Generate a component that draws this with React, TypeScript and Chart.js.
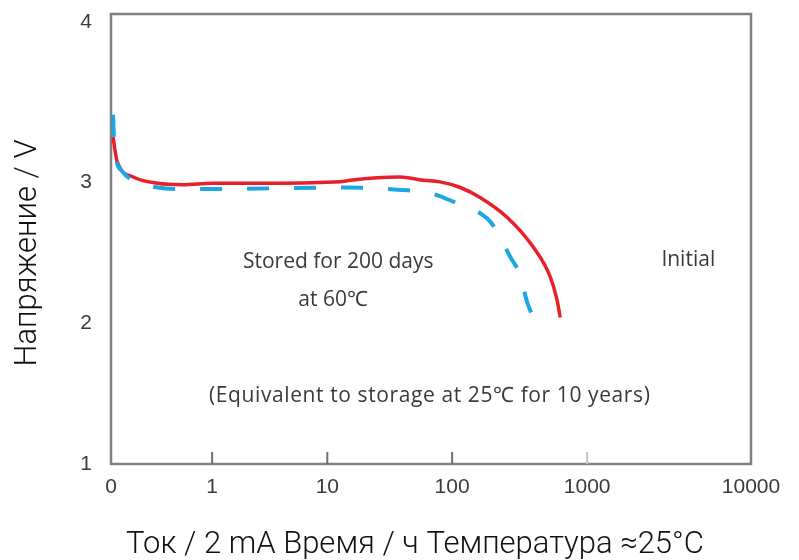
import React, { useEffect, useRef } from 'react';
import { Chart, registerables, LinearScale } from 'chart.js';

// ---------- data ----------
const xTickValues = [0, 1, 10, 100, 1000, 10000];
const xTickLabels = ['0', '1', '10', '100', '1000', '10000'];
const yTickValues = [1, 2, 3, 4];
const yTickLabels = ['1', '2', '3', '4'];

const xTitle = 'Ток / 2 mA Время / ч Температура ≈25°C';
const yTitle = 'Напряжение / V';

const seriesNames = ['Initial', 'Stored for 200 days at 60℃'];

// Initial (red, solid)
const initialHours = [0.02, 0.06, 0.22, 0.46, 0.71, 1, 3.2, 12.7, 15.3, 38, 58.6, 80, 115, 161, 255, 398, 532, 600, 631];
const initialVolts = [3.28, 3.13, 3.03, 2.99, 2.98, 2.99, 2.99, 3.0, 3.01, 3.03, 3.01, 3.0, 2.96, 2.89, 2.75, 2.54, 2.33, 2.16, 2.04];

// Stored for 200 days at 60℃ (blue, dashed)
const storedHours = [0.02, 0.03, 0.04, 0.12, 0.22, 0.46, 0.65, 1, 14.5, 43.7, 66.7, 96, 182, 215, 269, 319, 359, 412];
const storedVolts = [3.42, 3.26, 3.18, 3.06, 3.01, 2.96, 2.95, 2.95, 2.96, 2.94, 2.92, 2.87, 2.74, 2.65, 2.47, 2.34, 2.15, 2.01];

const annotationTexts = ['Stored for 200 days', 'at 60℃', 'Initial', '(Equivalent to storage at 25℃ for 10 years)'];

// ---------- layout / style constants ----------
const annotationPos = [
  [0.355, 0.551],
  [0.347, 0.636],
  [0.902, 0.547],
  [0.498, 0.849],
];
const xTitleCenter = [415, 545];
const yTitleCenter = [28, 253];
const xAnchorFractions = [0, 0.158, 0.338, 0.533, 0.744, 1];
const xAnchorLog = [false, true, true, true, true];
const yAnchorValues = [1, 2, 3, 4, 4.05];
const yAnchorFractions = [0, 0.313, 0.627, 0.982, 1];
const yAnchorLog = [false, false, false, false];

// ---------- piecewise scale ----------
class PiecewiseScale extends LinearScale {
  static id = 'piecewise';
  static defaults = {};

  pw() {
    const o: any = this.options;
    return { vals: o.pwValues as number[], fr: o.pwFractions as number[], lg: o.pwLog as boolean[] };
  }

  buildTicks() {
    (this as any).start = this.min;
    (this as any).end = this.max;
    const o: any = this.options;
    return (o.pwTicks as number[]).map((v) => ({ value: v }));
  }

  fracFor(value: number) {
    const { vals, fr, lg } = this.pw();
    const n = vals.length;
    let i = 0;
    if (value <= vals[0]) i = 0;
    else if (value >= vals[n - 1]) i = n - 2;
    else {
      while (i < n - 2 && value > vals[i + 1]) i++;
    }
    const a = vals[i], b = vals[i + 1];
    let t;
    if (lg[i] && a > 0 && b > 0 && value > 0) t = (Math.log10(value) - Math.log10(a)) / (Math.log10(b) - Math.log10(a));
    else t = (value - a) / (b - a);
    return fr[i] + t * (fr[i + 1] - fr[i]);
  }

  getPixelForValue(value: any) {
    if (value === null || value === undefined || isNaN(value)) return NaN;
    return this.getPixelForDecimal(this.fracFor(value));
  }

  getDecimalForValue(value: number) {
    return this.fracFor(value);
  }

  getValueForPixel(pixel: number) {
    const d = this.getDecimalForPixel(pixel);
    const { vals, fr, lg } = this.pw();
    const n = vals.length;
    let i = 0;
    while (i < n - 2 && d > fr[i + 1]) i++;
    const t = (d - fr[i]) / (fr[i + 1] - fr[i]);
    const a = vals[i], b = vals[i + 1];
    if (lg[i] && a > 0 && b > 0) return Math.pow(10, Math.log10(a) + t * (Math.log10(b) - Math.log10(a)));
    return a + t * (b - a);
  }
}

Chart.register(...registerables, PiecewiseScale);

// ---------- plugins ----------
const framePlugin = {
  id: 'frame',
  beforeDatasetsDraw(chart: any) {
    const { ctx, chartArea: a } = chart;
    ctx.save();
    ctx.strokeStyle = '#808080';
    ctx.lineWidth = 2.5;
    ctx.strokeRect(a.left, a.top, a.right - a.left, a.bottom - a.top);
    const xs = chart.scales.x;
    xTickValues.forEach((v, i) => {
      if (i === 0 || i === xTickValues.length - 1) return;
      const px = xs.getPixelForValue(v);
      ctx.strokeStyle = i === 4 ? '#c4c4c4' : '#707070';
      ctx.lineWidth = 2;
      ctx.beginPath();
      ctx.moveTo(px, a.bottom);
      ctx.lineTo(px, a.bottom - 12);
      ctx.stroke();
    });
    ctx.restore();
  },
};

const annotationPlugin = {
  id: 'notes',
  afterDatasetsDraw(chart: any) {
    const { ctx, chartArea: a } = chart;
    ctx.save();
    ctx.fillStyle = '#3a3a3a';
    ctx.font = '21px "Open Sans", sans-serif';
    ctx.textAlign = 'center';
    ctx.textBaseline = 'middle';
    annotationTexts.forEach((t, i) => {
      const [fx, fy] = annotationPos[i];
      if (i === 3) (ctx as any).letterSpacing = '0.6px';
      ctx.fillText(t, a.left + fx * (a.right - a.left), a.top + fy * (a.bottom - a.top));
    });
    ctx.restore();

    // axis titles
    ctx.save();
    ctx.fillStyle = '#111';
    ctx.font = '300 31px Roboto, sans-serif';
    ctx.textAlign = 'center';
    ctx.textBaseline = 'middle';
    ctx.fillText(xTitle, xTitleCenter[0], xTitleCenter[1]);
    ctx.translate(yTitleCenter[0], yTitleCenter[1]);
    ctx.rotate(-Math.PI / 2);
    ctx.fillText(yTitle, 0, 0);
    ctx.restore();
  },
};

export default function App() {
  const ref = useRef<HTMLCanvasElement | null>(null);

  useEffect(() => {
    if (!ref.current) return;
    const tickFont = { family: '"Liberation Sans", Arial, sans-serif', size: 21 };
    const chart = new Chart(ref.current, {
      type: 'line',
      data: {
        datasets: [
          {
            label: seriesNames[1],
            data: storedHours.map((x, i) => ({ x, y: storedVolts[i] })),
            borderColor: '#1ba6e4',
            borderWidth: 4,
            borderDash: [22, 25],
            pointRadius: 0,
            cubicInterpolationMode: 'monotone',
            fill: false,
          },
          {
            label: seriesNames[0],
            data: initialHours.map((x, i) => ({ x, y: initialVolts[i] })),
            borderColor: '#e8202b',
            borderWidth: 3.5,
            pointRadius: 0,
            cubicInterpolationMode: 'monotone',
            fill: false,
          },
        ],
      },
      options: {
        responsive: false,
        animation: false,
        layout: { padding: { left: 0, right: 48, top: 14, bottom: 0 } },
        plugins: { legend: { display: false }, tooltip: { enabled: false } },
        scales: {
          x: {
            type: 'piecewise' as any,
            min: 0,
            max: 10000,
            pwValues: xTickValues,
            pwFractions: xAnchorFractions,
            pwLog: xAnchorLog,
            pwTicks: xTickValues,
            grid: { display: false, drawTicks: false },
            border: { display: false },
            ticks: {
              autoSkip: false,
              maxRotation: 0,
              padding: 11,
              color: '#3b3b3b',
              font: tickFont,
              callback: (_v: any, i: number) => xTickLabels[i],
            },
            title: { display: false, text: xTitle },
            afterFit: (s: any) => {
              s.height = 96;
            },
          } as any,
          y: {
            type: 'piecewise' as any,
            min: 1,
            max: 4.05,
            pwValues: yAnchorValues,
            pwFractions: yAnchorFractions,
            pwLog: yAnchorLog,
            pwTicks: yTickValues,
            grid: { display: false, drawTicks: false },
            border: { display: false },
            ticks: {
              autoSkip: false,
              padding: 19,
              color: '#3b3b3b',
              font: tickFont,
              callback: (_v: any, i: number) => yTickLabels[i],
            },
            title: { display: false, text: yTitle },
            afterFit: (s: any) => {
              s.width = 111;
              s.paddingTop = 0;
              s.paddingBottom = 0;
            },
          } as any,
        },
      },
      plugins: [framePlugin, annotationPlugin],
    });
    return () => chart.destroy();
  }, []);

  return (
    <div style={{ position: 'absolute', left: 0, top: 0, width: 799, height: 560, background: '#fff' }}>
      <canvas ref={ref} width={799} height={560} />
    </div>
  );
}
